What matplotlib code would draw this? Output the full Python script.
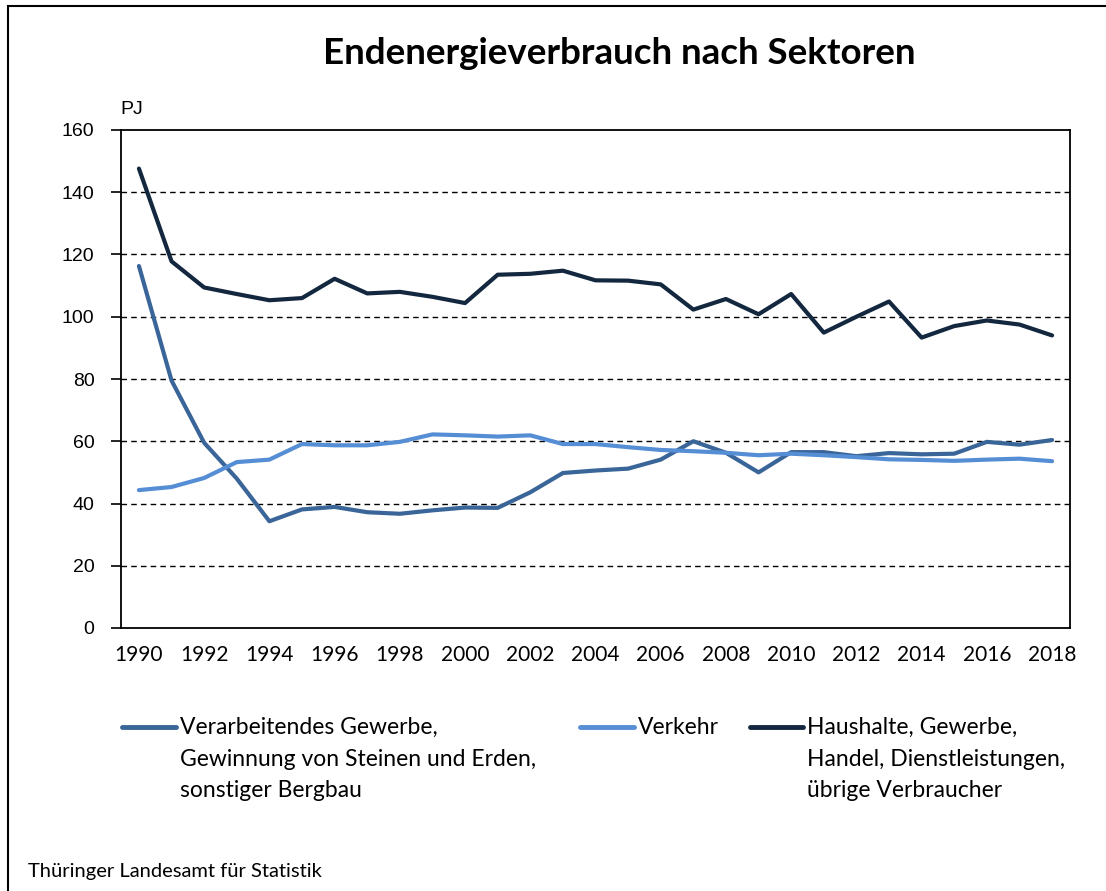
import numpy as np
import matplotlib
matplotlib.use("Agg")
import matplotlib.pyplot as plt
from matplotlib.lines import Line2D
from matplotlib.patches import Rectangle

# Daten (PJ)
jahre = list(range(1990, 2019))
verarbeitendes = [116.3, 79.5, 59.5, 48.0, 34.3, 38.1, 38.9, 37.2, 36.7, 37.8,
                  38.7, 38.6, 43.6, 49.8, 50.6, 51.2, 54.1, 60.0, 56.3, 50.0,
                  56.5, 56.5, 55.2, 56.2, 55.8, 56.0, 59.8, 58.9, 60.4]
verkehr = [44.3, 45.3, 48.2, 53.3, 54.1, 59.1, 58.7, 58.7, 59.8, 62.2,
           61.9, 61.5, 61.9, 59.1, 59.1, 58.1, 57.2, 56.8, 56.3, 55.5,
           56.0, 55.5, 54.9, 54.2, 54.0, 53.7, 54.1, 54.4, 53.6]
haushalte = [147.6, 117.8, 109.4, 107.3, 105.3, 106.0, 112.2, 107.5, 108.0, 106.4,
             104.4, 113.5, 113.8, 114.8, 111.7, 111.6, 110.4, 102.3, 105.7, 100.8,
             107.3, 94.9, 100.0, 104.9, 93.3, 97.0, 98.8, 97.5, 94.0]

labels = ["Verarbeitendes Gewerbe,\nGewinnung von Steinen und Erden,\nsonstiger Bergbau",
          "Verkehr",
          "Haushalte, Gewerbe,\nHandel, Dienstleistungen,\nübrige Verbraucher"]
farben = ["#3A6598", "#568ED5", "#13283F"]
serien = [verarbeitendes, verkehr, haushalte]

fig = plt.figure(figsize=(11.06, 8.91), dpi=100)
fig.patch.set_facecolor("white")

# Rahmen (nur links und oben sichtbar)
fig.add_artist(Rectangle((8 / 1106, -0.1), 1.2, 1 - 6 / 891 + 0.1, transform=fig.transFigure,
                         fill=False, edgecolor="black", linewidth=1.5))

ax = fig.add_axes([121 / 1106, 1 - 628 / 891, (1070 - 121) / 1106, (628 - 130) / 891])
x = np.arange(len(jahre))
for s, f in zip(serien, farben):
    ax.plot(x, s, color=f, linewidth=3, solid_capstyle="round", solid_joinstyle="round", zorder=3)

ax.set_xlim(-0.55, len(jahre) - 0.45)
ax.set_ylim(0, 160)
ax.set_yticks(range(0, 161, 20))
ax.set_xticks(x[::2])
ax.set_xticklabels([str(j) for j in jahre[::2]], fontfamily="Lato", fontsize=15)
for t in ax.get_yticklabels():
    t.set_fontfamily("Liberation Sans")
    t.set_fontsize(14)
ax.tick_params(axis="x", length=0, pad=12)
ax.tick_params(axis="y", length=7, width=1.2, direction="out", pad=12)
for y in range(20, 160, 20):
    ax.axhline(y, color="black", linestyle=(0, (4, 3)), linewidth=1, zorder=1)
for sp in ax.spines.values():
    sp.set_linewidth(1.3)
    sp.set_color("black")

fig.text(120 / 1106, 1 - 110 / 891, "PJ", fontfamily="Liberation Sans", fontsize=14, va="center")
fig.text(619 / 1106, 1 - 53 / 891, "Endenergieverbrauch nach Sektoren", fontfamily="Lato",
         fontweight="bold", fontsize=26.5, ha="center", va="center")

# Legende
leg_x = [(122, 176), (580, 634), (750, 803)]
for (x0, x1), lab, f in zip(leg_x, labels, farben):
    fig.add_artist(Line2D([x0 / 1106, x1 / 1106], [1 - 727 / 891] * 2, color=f, linewidth=3.5,
                          solid_capstyle="round", transform=fig.transFigure))
    fig.text((x1 + 4) / 1106, 1 - 717 / 891, lab, fontfamily="Lato", fontsize=16.5,
             va="top", ha="left", linespacing=1.62)

fig.text(28 / 1106, 1 - 872 / 891, "Thüringer Landesamt für Statistik", fontfamily="Lato",
         fontsize=14.5, va="center")

fig.savefig("out.png", dpi=100)
